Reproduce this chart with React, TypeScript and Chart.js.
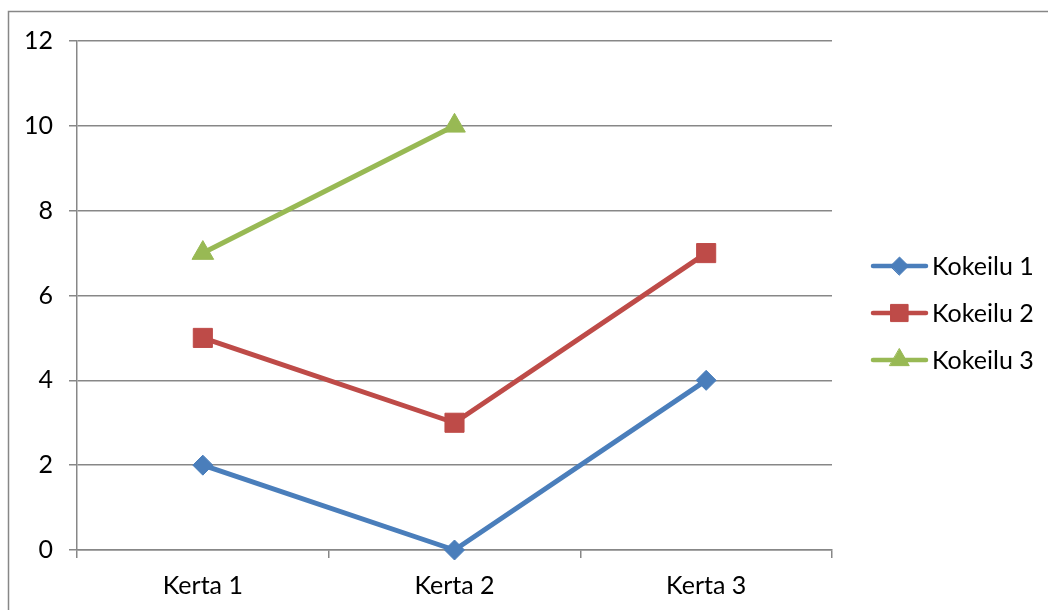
import React, { useEffect, useRef } from "react";
import { Chart, registerables } from "chart.js";
import { drawPoint } from "chart.js/helpers";

Chart.register(...registerables);

const categories = ["Kerta 1", "Kerta 2", "Kerta 3"];
const seriesNames = ["Kokeilu 1", "Kokeilu 2", "Kokeilu 3"];
const kokeilu1 = [2, 0, 4];
const kokeilu2 = [5, 3, 7];
const kokeilu3: (number | null)[] = [7, 10, null];

const FONT = "Lato, 'Noto Sans', sans-serif";
const GRID = "#878787";

const frameAndLegend = {
  id: "frameAndLegend",
  beforeDraw(chart: any) {
    const ctx = chart.ctx;
    ctx.save();
    ctx.fillStyle = "#ffffff";
    ctx.fillRect(0, 0, chart.width, chart.height);
    ctx.strokeStyle = GRID;
    ctx.lineWidth = 1.5;
    ctx.beginPath();
    ctx.moveTo(8.5, chart.height);
    ctx.lineTo(8.5, 11.5);
    ctx.lineTo(chart.width, 11.5);
    ctx.stroke();
    ctx.restore();
  },
  afterDraw(chart: any) {
    const ctx = chart.ctx;
    ctx.save();
    chart.data.datasets.forEach((ds: any, i: number) => {
      const y = 266 + i * 47;
      ctx.strokeStyle = ds.borderColor;
      ctx.lineWidth = 4.5;
      ctx.lineCap = "round";
      ctx.beginPath();
      ctx.moveTo(873, y);
      ctx.lineTo(926, y);
      ctx.stroke();
      ctx.fillStyle = ds.pointBackgroundColor;
      ctx.strokeStyle = ds.pointBorderColor;
      ctx.lineWidth = 1;
      drawPoint(
        ctx,
        { pointStyle: ds.pointStyle, radius: ds.pointRadius * 0.9, rotation: 0, borderWidth: 1 } as any,
        899.5,
        y
      );
      ctx.fillStyle = "#000000";
      ctx.font = `25px ${FONT}`;
      ctx.textBaseline = "middle";
      ctx.textAlign = "left";
      ctx.fillText(ds.label, 932, y + 1);
    });
    ctx.restore();
  },
};

export default function App() {
  const ref = useRef<HTMLCanvasElement>(null);
  useEffect(() => {
    if (!ref.current) return;
    const mk = (label: string, data: any[], color: string, style: string, r: number) => ({
      label,
      data,
      borderColor: color,
      backgroundColor: color,
      pointBackgroundColor: color,
      pointBorderColor: color,
      pointBorderWidth: 1,
      pointStyle: style,
      pointRadius: r,
      pointHoverRadius: r,
      borderWidth: 5,
      borderJoinStyle: "round",
      borderCapStyle: "round",
      tension: 0,
      spanGaps: false,
      clip: false,
    });
    const chart = new Chart(ref.current, {
      type: "line",
      data: {
        labels: categories,
        datasets: [
          mk(seriesNames[0], kokeilu1, "#4A7EBB", "rectRot", 10),
          mk(seriesNames[1], kokeilu2, "#BE4B48", "rect", 13.5),
          mk(seriesNames[2], kokeilu3, "#98B954", "triangle", 12.5),
        ] as any,
      },
      options: {
        animation: false,
        responsive: true,
        maintainAspectRatio: false,
        devicePixelRatio: 1,
        layout: { padding: { left: 0, top: 41, right: 216, bottom: 0 } },
        plugins: { legend: { display: false }, tooltip: { enabled: false } },
        scales: {
          x: {
            offset: true,
            grid: {
              offset: true,
              drawOnChartArea: false,
              drawTicks: true,
              tickLength: 8,
              color: GRID,
              lineWidth: 1.5,
            },
            border: { display: true, color: GRID, width: 1.5 },
            ticks: { color: "#000", font: { family: FONT, size: 25 }, padding: 13 },
            afterFit: (s: any) => {
              s.height = 60;
            },
          },
          y: {
            min: 0,
            max: 12,
            ticks: { stepSize: 2, color: "#000", font: { family: FONT, size: 25 }, padding: 16 },
            grid: { color: GRID, lineWidth: 1.5, tickLength: 8, drawTicks: true },
            border: { display: true, color: GRID, width: 1.5 },
            afterFit: (s: any) => {
              s.width = 77;
            },
          },
        },
      },
      plugins: [frameAndLegend],
    });
    return () => chart.destroy();
  }, []);
  return (
    <div style={{ position: "fixed", left: 0, top: 0, width: 1048, height: 610, background: "#fff" }}>
      <canvas ref={ref} />
    </div>
  );
}
